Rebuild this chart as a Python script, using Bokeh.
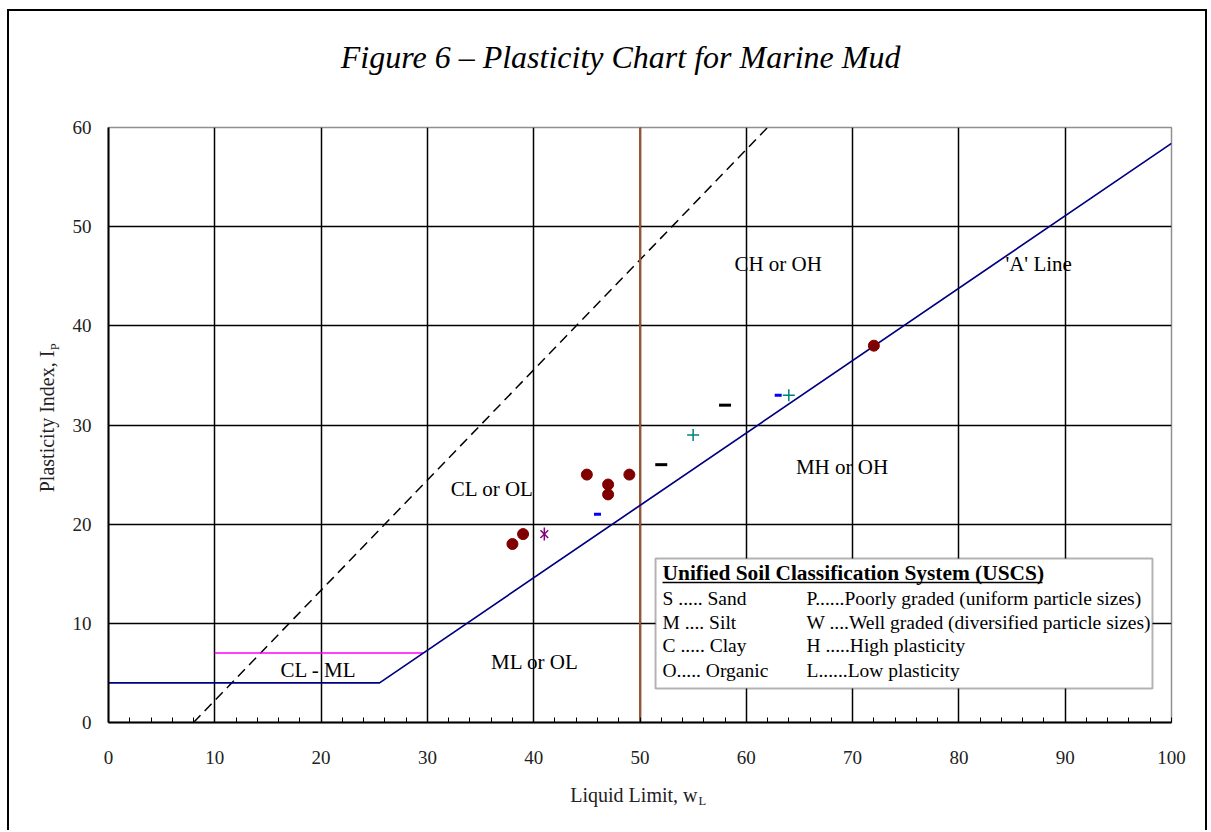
import math
from bokeh.plotting import figure
from bokeh.models import Range1d, FixedTicker, Label, BoxAnnotation, ColumnDataSource
from bokeh.embed import file_html
from bokeh.resources import INLINE
from bokeh.core.properties import value

# ---------------- data ----------------
a_line_ll = [0, 25.5, 100]
a_line_pi = [4, 4, 58.4]
u_line_ll = [8, 62]
u_line_pi = [0, 60]
clml_ll = [10, 29.6]
clml_pi = [7, 7]
ll50_ll = [50, 50]
ll50_pi = [0, 60]

circle_ll = [38, 39, 45, 47, 47, 49, 72]
circle_pi = [18, 19, 25, 24, 23, 25, 38]
star_ll = [41]
star_pi = [19]
blue_dash_ll = [46, 63]
blue_dash_pi = [21, 33]
black_dash_ll = [52, 58]
black_dash_pi = [26, 32]
plus_ll = [55, 64]
plus_pi = [29, 33]

zone_text = ["CH or OH", "'A' Line", "MH or OH", "CL or OL", "ML or OL", "CL - ML"]
zone_ll = [63.0, 87.5, 69.0, 36.1, 40.1, 19.75]
zone_pi = [46.2, 46.2, 25.8, 23.5, 6.15, 5.34]

x_ticks = list(range(0, 101, 10))
x_minor = list(range(0, 101, 2))
y_ticks = list(range(0, 61, 10))

title_text = "Figure 6 \u2013 Plasticity Chart for Marine Mud"
x_label = "Liquid Limit, w"
x_sub = "L"
y_label = "Plasticity Index, I"
y_sub = "P"
legend_title = "Unified Soil Classification System (USCS)"
legend_col1 = ["S ..... Sand", "M .... Silt", "C ..... Clay", "O..... Organic"]
legend_col2 = ["P......Poorly graded (uniform particle sizes)",
               "W ....Well graded (diversified particle sizes)",
               "H .....High plasticity",
               "L......Low plasticity"]

SERIF = "Liberation Serif"

p = figure(width=1200, height=821, output_backend="svg", toolbar_location=None,
           x_range=Range1d(0, 100), y_range=Range1d(0, 60),
           min_border_left=99, min_border_right=38, min_border_top=116,
           min_border_bottom=110)
p.styles = {"margin-left": "7px", "margin-top": "9px",
            "border-top": "2px solid black", "border-left": "2px solid black",
            "border-right": "2px solid black"}
p.outline_line_color = "#909090"
p.outline_line_width = 1.5
p.title.visible = False

# axes
for ax in (p.xaxis[0], p.yaxis[0]):
    ax.axis_line_color = "black"
    ax.axis_line_width = 2
    ax.major_tick_in = 0
    ax.major_tick_out = 0
    ax.major_label_text_font = SERIF
    ax.major_label_text_font_size = "19px"
    ax.major_label_text_color = "#222222"
p.xaxis.ticker = FixedTicker(ticks=x_ticks, minor_ticks=x_minor)
p.xaxis.minor_tick_in = 5
p.xaxis.minor_tick_out = 0
p.xaxis.minor_tick_line_color = "black"
p.xaxis.minor_tick_line_width = 1
p.xaxis.major_label_standoff = 28
p.yaxis.ticker = FixedTicker(ticks=y_ticks, minor_ticks=[])
p.yaxis.minor_tick_line_color = None
p.yaxis.major_label_standoff = 17

p.xgrid.ticker = FixedTicker(ticks=x_ticks[1:-1])
p.ygrid.ticker = FixedTicker(ticks=y_ticks[1:-1])
for g in (p.xgrid[0], p.ygrid[0]):
    g.grid_line_color = "black"
    g.grid_line_width = 1.5
    g.grid_line_alpha = 1

# lines
p.line(u_line_ll, u_line_pi, line_color="black", line_width=1.5, line_dash="10 6")
p.line(clml_ll, clml_pi, line_color="#FF00FF", line_width=1.5)
p.line(ll50_ll, ll50_pi, line_color="#A0522D", line_width=2)
p.line(a_line_ll, a_line_pi, line_color="#000080", line_width=1.7)

# markers
p.scatter(circle_ll, circle_pi, marker="circle", size=11,
          fill_color="#800000", line_color="#800000")
p.scatter(star_ll, star_pi, marker="x", size=11, line_color="#800080", line_width=1.5)
p.scatter(star_ll, star_pi, marker="dash", size=13, angle=math.pi / 2,
          line_color="#800080", line_width=1.5)
p.scatter(blue_dash_ll, blue_dash_pi, marker="dash", size=7,
          line_color="#0000FF", line_width=3)
p.scatter(black_dash_ll, black_dash_pi, marker="dash", size=12,
          line_color="black", line_width=3)
p.scatter(plus_ll, plus_pi, marker="cross", size=12,
          line_color="#008080", line_width=1.5)

# zone labels
zsrc = ColumnDataSource(dict(x=zone_ll, y=zone_pi, t=zone_text))
p.text(x="x", y="y", text="t", source=zsrc, text_align="center",
       text_baseline="middle", text_font=value(SERIF), text_font_size="21px",
       text_color="black")

# title and axis labels (side panels, outside the frame)
p.add_layout(Label(x=48.17, y=67.14, text=title_text, text_align="center",
                   text_baseline="middle", text_font=SERIF, text_font_style="italic",
                   text_font_size="32px", text_color="black"), "above")
p.add_layout(Label(x=55.41, y=-7.36, text=x_label, text_align="right",
                   text_baseline="alphabetic", text_font=SERIF,
                   text_font_size="20px", text_color="#222222"), "below")
p.add_layout(Label(x=55.5, y=-7.87, text=x_sub, text_align="left",
                   text_baseline="alphabetic", text_font=SERIF,
                   text_font_size="12.5px", text_color="#222222"), "below")
p.add_layout(Label(x=-5.74, y=37.5, text=y_label, angle=math.pi / 2,
                   text_align="right", text_baseline="middle", text_font=SERIF,
                   text_font_size="20px", text_color="#222222"), "left")
p.add_layout(Label(x=-5.03, y=37.55, text=y_sub, angle=math.pi / 2,
                   text_align="left", text_baseline="middle", text_font=SERIF,
                   text_font_size="12.5px", text_color="#222222"), "left")

# USCS legend box
p.add_layout(BoxAnnotation(left=51.46, right=98.21, bottom=3.43, top=16.53,
                           fill_color="white", fill_alpha=1,
                           line_color="black", line_width=2))
p.add_layout(Label(x=52.12, y=15.12, text=legend_title, text_align="left",
                   text_baseline="middle", text_font=SERIF, text_font_style="bold",
                   text_font_size="21.4px", text_color="black"))
p.add_layout(BoxAnnotation(left=52.12, right=87.86, bottom=14.03, top=14.2,
                           fill_color="black", fill_alpha=1, line_alpha=0))
row_pi = [12.5, 10.08, 7.76, 5.24]
for t1, t2, yy in zip(legend_col1, legend_col2, row_pi):
    p.add_layout(Label(x=52.12, y=yy, text=t1, text_align="left",
                       text_baseline="middle", text_font=SERIF,
                       text_font_size="19.5px", text_color="black"))
    p.add_layout(Label(x=65.66, y=yy, text=t2, text_align="left",
                       text_baseline="middle", text_font=SERIF,
                       text_font_size="19.5px", text_color="black"))

open("out.html", "w").write(file_html(p, INLINE))
